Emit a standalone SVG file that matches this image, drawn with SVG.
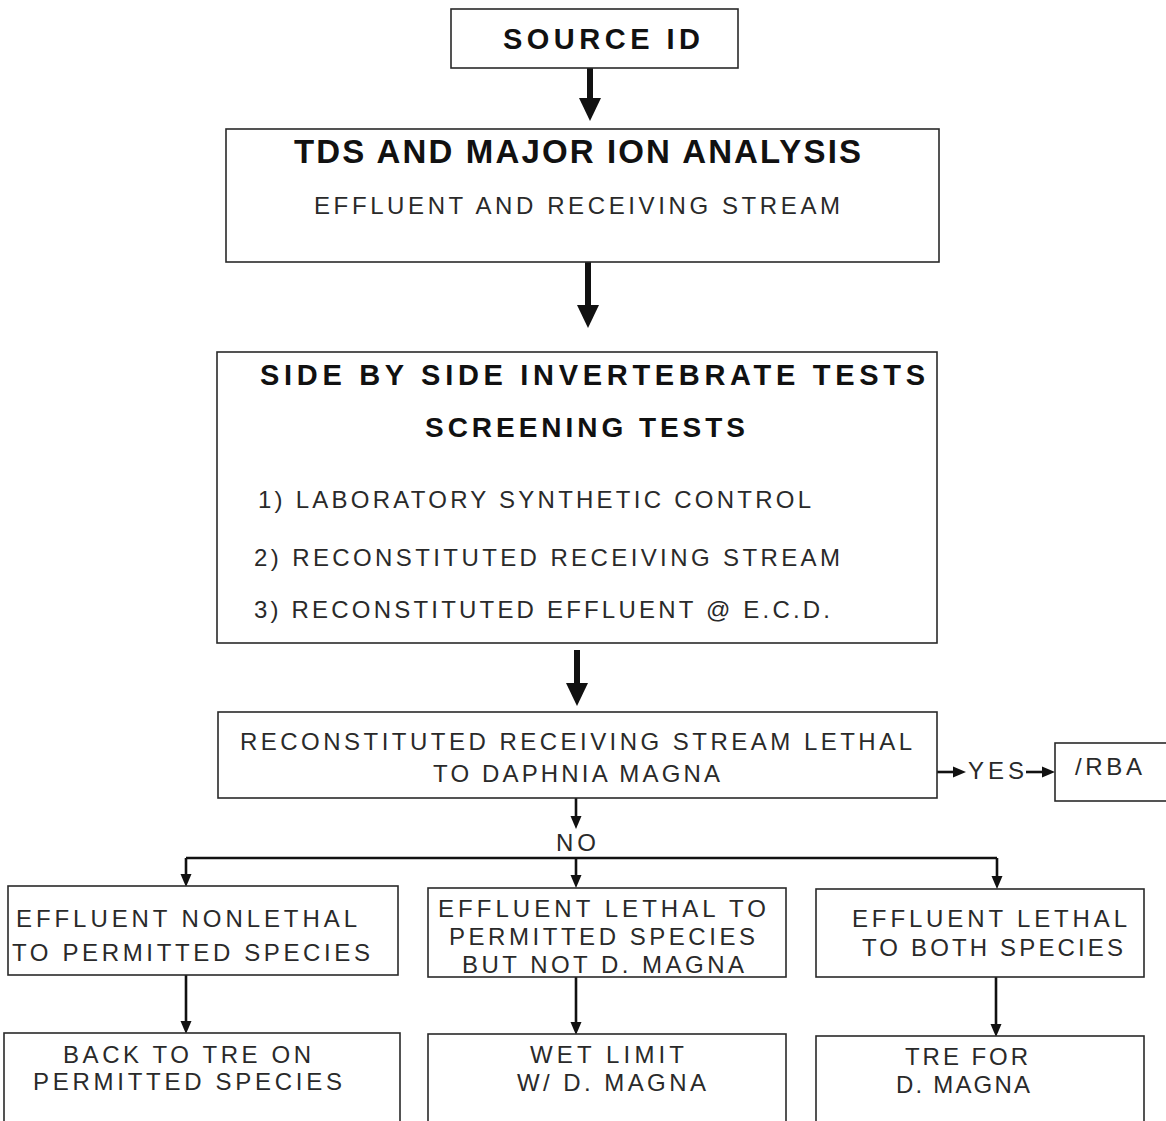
<svg xmlns="http://www.w3.org/2000/svg" width="1166" height="1121" viewBox="0 0 1166 1121">
<style>
  .box { fill: #fff; stroke: #2a2a2a; stroke-width: 1.6; }
  .t { font-family: "Liberation Sans", Arial, sans-serif; fill: #2a2a2a; font-size: 24px; }
  .b { font-weight: bold; fill: #111; }
  .h0 { font-size: 29px; }
  .h1 { font-size: 33px; }
  .h3 { font-size: 29px; }
  .h2 { font-size: 28px; }
  .thick { stroke: #111; stroke-width: 6; fill: none; }
  .thin { stroke: #111; stroke-width: 2.6; fill: none; }
</style>
<defs>
  <marker id="bigHead" markerUnits="userSpaceOnUse" markerWidth="24" markerHeight="24" refX="10" refY="12" orient="auto">
    <path d="M0,1 L23,12 L0,23 z" fill="#111"/>
  </marker>
  <marker id="smallHead" markerUnits="userSpaceOnUse" markerWidth="14" markerHeight="12" refX="5" refY="6" orient="auto">
    <path d="M0,0.5 L13,6 L0,11.5 z" fill="#111"/>
  </marker>
</defs>
<rect width="1166" height="1121" fill="#fff"/>

<g id="connectors">
  <line class="thick" x1="590" y1="68" x2="590" y2="108" marker-end="url(#bigHead)"/>
  <line class="thick" x1="588" y1="262" x2="588" y2="315" marker-end="url(#bigHead)"/>
  <line class="thick" x1="577" y1="650" x2="577" y2="693" marker-end="url(#bigHead)"/>
  <line class="thin" x1="576" y1="798" x2="576" y2="821" marker-end="url(#smallHead)"/>
  <line class="thin" x1="937" y1="772" x2="958" y2="772" marker-end="url(#smallHead)"/>
  <line class="thin" x1="1026" y1="772" x2="1047" y2="772" marker-end="url(#smallHead)"/>
  <path class="thin" d="M186,858 L997,858"/>
  <line class="thin" x1="186" y1="858" x2="186" y2="879" marker-end="url(#smallHead)"/>
  <line class="thin" x1="576" y1="858" x2="576" y2="880" marker-end="url(#smallHead)"/>
  <line class="thin" x1="997" y1="858" x2="997" y2="881" marker-end="url(#smallHead)"/>
  <line class="thin" x1="186" y1="975" x2="186" y2="1026" marker-end="url(#smallHead)"/>
  <line class="thin" x1="576" y1="977" x2="576" y2="1027" marker-end="url(#smallHead)"/>
  <line class="thin" x1="996" y1="977" x2="996" y2="1029" marker-end="url(#smallHead)"/>
  <text class="t" x="556" y="851" textLength="40" lengthAdjust="spacing">NO</text>
  <text class="t" x="968" y="779" textLength="56" lengthAdjust="spacing">YES</text>
</g>

<g id="source-id">
  <rect class="box" x="451" y="9" width="287" height="59"/>
  <text class="t b h0" x="503" y="49" textLength="197" lengthAdjust="spacing">SOURCE ID</text>
</g>

<g id="tds-analysis">
  <rect class="box" x="226" y="129" width="713" height="133"/>
  <text class="t b h1" x="294" y="163" textLength="567" lengthAdjust="spacing">TDS AND MAJOR ION ANALYSIS</text>
  <text class="t" x="314" y="214" textLength="526" lengthAdjust="spacing">EFFLUENT AND RECEIVING STREAM</text>
</g>

<g id="side-by-side">
  <rect class="box" x="217" y="352" width="720" height="291"/>
  <text class="t b h3" x="260" y="385" textLength="665" lengthAdjust="spacing">SIDE BY SIDE INVERTEBRATE TESTS</text>
  <text class="t b h2" x="425" y="437" textLength="320" lengthAdjust="spacing">SCREENING TESTS</text>
  <text class="t" x="258" y="508" textLength="553" lengthAdjust="spacing">1) LABORATORY SYNTHETIC CONTROL</text>
  <text class="t" x="254" y="566" textLength="586" lengthAdjust="spacing">2) RECONSTITUTED RECEIVING STREAM</text>
  <text class="t" x="254" y="618" textLength="576" lengthAdjust="spacing">3) RECONSTITUTED EFFLUENT @ E.C.D.</text>
</g>

<g id="lethal-check">
  <rect class="box" x="218" y="712" width="719" height="86"/>
  <text class="t" x="240" y="750" textLength="672" lengthAdjust="spacing">RECONSTITUTED RECEIVING STREAM LETHAL</text>
  <text class="t" x="433" y="782" textLength="287" lengthAdjust="spacing">TO DAPHNIA MAGNA</text>
</g>

<g id="rba">
  <rect class="box" x="1055" y="743" width="120" height="58"/>
  <text class="t" x="1075" y="775" textLength="67" lengthAdjust="spacing">/RBA</text>
</g>

<g id="nonlethal">
  <rect class="box" x="8" y="886" width="390" height="89"/>
  <text class="t" x="16" y="927" textLength="341" lengthAdjust="spacing">EFFLUENT NONLETHAL</text>
  <text class="t" x="12" y="961" textLength="358" lengthAdjust="spacing">TO PERMITTED SPECIES</text>
</g>

<g id="lethal-permitted">
  <rect class="box" x="428" y="888" width="358" height="89"/>
  <text class="t" x="438" y="917" textLength="328" lengthAdjust="spacing">EFFLUENT LETHAL TO</text>
  <text class="t" x="449" y="945" textLength="306" lengthAdjust="spacing">PERMITTED SPECIES</text>
  <text class="t" x="462" y="973" textLength="282" lengthAdjust="spacing">BUT NOT D. MAGNA</text>
</g>

<g id="lethal-both">
  <rect class="box" x="816" y="889" width="328" height="88"/>
  <text class="t" x="852" y="927" textLength="275" lengthAdjust="spacing">EFFLUENT LETHAL</text>
  <text class="t" x="862" y="956" textLength="261" lengthAdjust="spacing">TO BOTH SPECIES</text>
</g>

<g id="back-to-tre">
  <rect class="box" x="4" y="1033" width="396" height="95"/>
  <text class="t" x="63" y="1063" textLength="248" lengthAdjust="spacing">BACK TO TRE ON</text>
  <text class="t" x="33" y="1090" textLength="309" lengthAdjust="spacing">PERMITTED SPECIES</text>
</g>

<g id="wet-limit">
  <rect class="box" x="428" y="1034" width="358" height="95"/>
  <text class="t" x="530" y="1063" textLength="154" lengthAdjust="spacing">WET LIMIT</text>
  <text class="t" x="517" y="1091" textLength="189" lengthAdjust="spacing">W/ D. MAGNA</text>
</g>

<g id="tre-daphnia">
  <rect class="box" x="816" y="1036" width="328" height="95"/>
  <text class="t" x="905" y="1065" textLength="123" lengthAdjust="spacing">TRE FOR</text>
  <text class="t" x="896" y="1093" textLength="134" lengthAdjust="spacing">D. MAGNA</text>
</g>
</svg>
